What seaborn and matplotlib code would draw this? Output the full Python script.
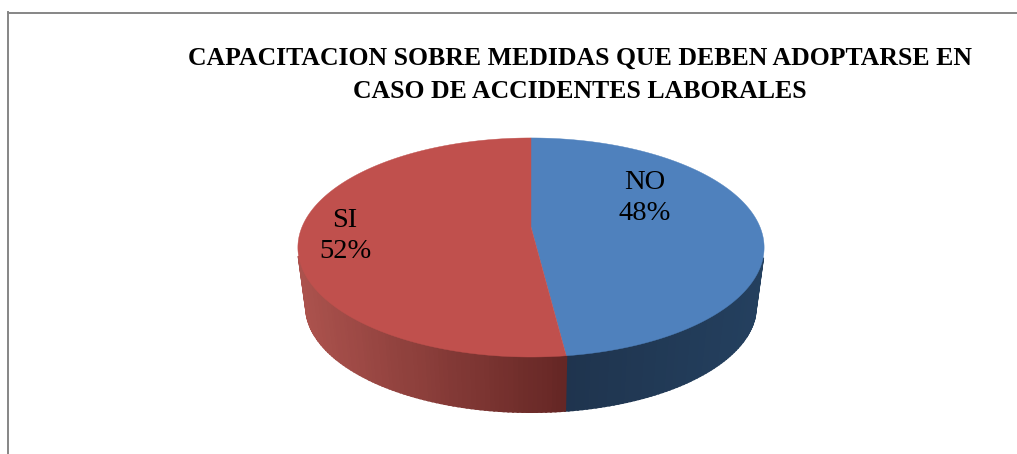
"""Perspective pie chart with a shaded side wall, built on a seaborn palette."""

import matplotlib
matplotlib.use("Agg")
import matplotlib.pyplot as plt
import numpy as np
import seaborn as sns

# Data
categories = ["NO", "SI"]
shares = [48, 52]
title_lines = [
    "CAPACITACION SOBRE MEDIDAS QUE DEBEN ADOPTARSE EN",
    "CASO DE ACCIDENTES LABORALES",
]

# Colours
top_colors = sns.color_palette(["#4F81BD", "#C0504D"])
wall_ramps = [("#1F344E", "#24405F"), ("#AB524D", "#642624")]

# Pie geometry in figure pixels
CX, CY = 531, 227
RX, RY = 229, 105.7
TILT = 0.187
RIM_SCALE = 0.965
RIM_DROP = 59.5


def project(angle):
    """Map clockwise-from-top angles (radians) onto the tilted pie plane."""
    u = np.sin(angle)
    v = np.cos(angle)
    w = 1 + TILT * v
    return RX * u / w, -RY * v / w


sns.set_theme(style="white")
plt.rcParams["font.family"] = ["Liberation Serif", "DejaVu Serif"]

fig = plt.figure(figsize=(10.17, 4.54), dpi=100)
ax = fig.add_axes([8 / 1017, 0, 1 - 8 / 1017, (454 - 12.5) / 454])
ax.set_xlim(8, 1017)
ax.set_ylim(454, 12.5)
ax.set_xticks([])
ax.set_yticks([])
sns.despine(ax=ax, top=False, right=True, bottom=True)
for side in ["left", "top"]:
    ax.spines[side].set_color("#868686")
    ax.spines[side].set_linewidth(1.4)

edges = np.concatenate([[0], np.cumsum(shares)]) / np.sum(shares) * 2 * np.pi
fine = 2 * np.pi / 360

# Side wall, one thin strip at a time so the shading follows x
for i in range(len(shares)):
    start, stop = edges[i], edges[i + 1]
    angles = np.arange(start, stop + fine, fine)
    angles[-1] = stop
    px, py = project(angles)
    rim_x = CX + RIM_SCALE * px
    rim_y = CY + RIM_DROP + RIM_SCALE * py
    top_x = CX + px
    top_y = CY + py
    ramp = sns.blend_palette(wall_ramps[i], 64)
    # Strips behind the top face would only bleed round its edge
    visible = py > 30
    low, high = rim_x[visible].min(), rim_x[visible].max()
    for j in range(len(angles) - 1):
        if not visible[j]:
            continue
        mid = (rim_x[j] + rim_x[j + 1]) / 2
        t = np.clip((mid - low) / (high - low), 0, 1)
        ax.fill(
            [top_x[j], top_x[j + 1], rim_x[j + 1], rim_x[j]],
            [top_y[j], top_y[j + 1], rim_y[j + 1], rim_y[j]],
            color=ramp[int(t * 63)],
            linewidth=1.5,
            zorder=2,
        )

# Top face
for i in range(len(shares)):
    angles = np.linspace(edges[i], edges[i + 1], 300)
    x, y = project(angles)
    ax.fill(
        np.r_[CX, CX + x],
        np.r_[CY, CY + y],
        color=top_colors[i],
        linewidth=0.3,
        zorder=3,
    )

# Slice labels
label_spots = [(645, 198), (345, 236)]
for name, share, (lx, ly) in zip(categories, shares, label_spots):
    ax.text(
        lx,
        ly,
        f"{name}\n{share}%",
        ha="center",
        va="center",
        fontsize=20.5,
        linespacing=1.3,
        color="black",
        zorder=4,
    )

# Title
ax.text(
    580,
    75,
    "\n".join(title_lines),
    ha="center",
    va="center",
    fontsize=18.5,
    fontweight="bold",
    linespacing=1.56,
    color="black",
)

fig.savefig("out.png", dpi=100)
plt.close(fig)
